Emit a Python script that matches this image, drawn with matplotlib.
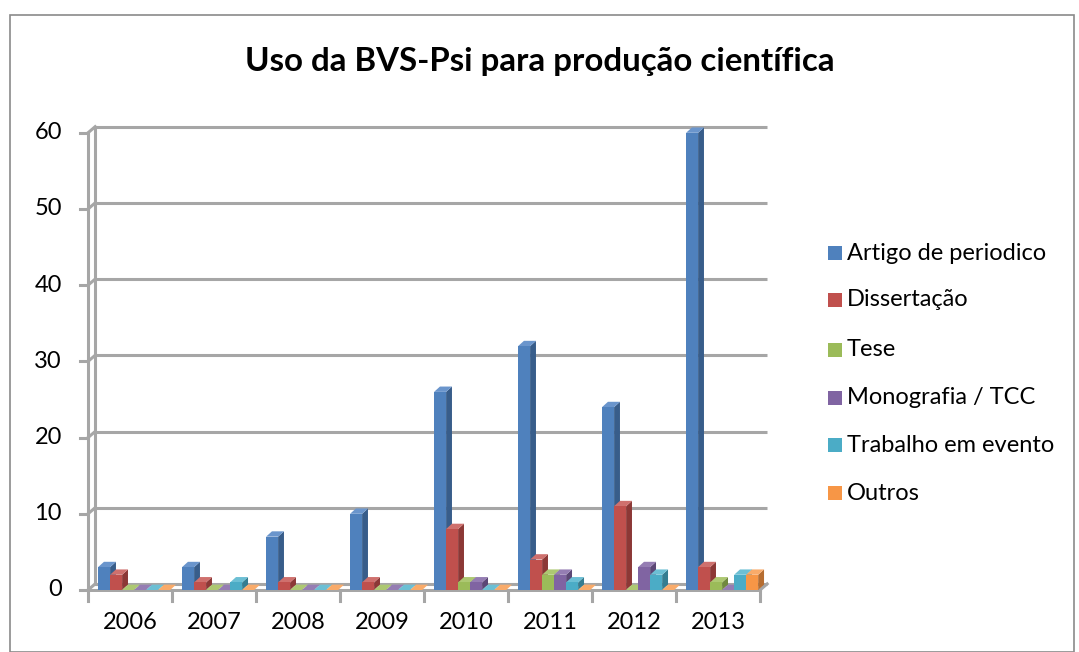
import numpy as np
import matplotlib.pyplot as plt
from matplotlib.patches import Polygon, Rectangle

# Dados do gráfico
anos = ["2006", "2007", "2008", "2009", "2010", "2011", "2012", "2013"]
series = ["Artigo de periodico", "Dissertação", "Tese", "Monografia / TCC",
          "Trabalho em evento", "Outros"]
artigo = [3, 3, 7, 10, 26, 32, 24, 60]
dissertacao = [2, 1, 1, 1, 8, 4, 11, 3]
tese = [0, 0, 0, 0, 1, 2, 0, 1]
monografia = [0, 0, 0, 0, 1, 2, 3, 0]
trabalho = [0, 1, 0, 0, 0, 1, 2, 2]
outros = [0, 0, 0, 0, 0, 0, 0, 2]
valores = [artigo, dissertacao, tese, monografia, trabalho, outros]

cores = ["#4F81BD", "#C0504D", "#9BBB59", "#8064A2", "#4BACC6", "#F79646"]
cores_lado = ["#385D8A", "#8C3836", "#71893F", "#5C4776", "#357D91", "#B66D31"]
cores_topo = ["#6A95CC", "#CF706D", "#ADC872", "#957DB3", "#6CBFD4", "#F9AB6A"]

W, H = 1079, 652
fig = plt.figure(figsize=(W / 100, H / 100), dpi=100)

# Moldura externa
fig.patches.append(Rectangle((10 / W, 0), 1064 / W, 1 - 15 / H, transform=fig.transFigure,
                             fill=False, edgecolor="#8a8a8a", linewidth=1.2))

# Eixos: 0 -> px 590, 7.62 px por unidade; categoria = 84 px, inicio em px 88
pyu = 7.62
pxu = 84.0
ylo, yhi = -0.3, 61.5
xlo, xhi = -0.1, 8.2
bottom = 590 + (0 - ylo) * pyu
top = 590 - yhi * pyu
left = 88 + xlo * pxu
right = 88 + xhi * pxu
ax = fig.add_axes([left / W, 1 - bottom / H, (right - left) / W, (bottom - top) / H])
ax.set_xlim(xlo, xhi)
ax.set_ylim(ylo, yhi)
ax.axis("off")

dx, dy = 0.085, 0.8
cinza = "#A6A6A6"
fonte = 17

# Parede do fundo e linhas de grade
for v in range(0, 61, 10):
    ax.plot([dx, 8 + dx], [v + dy, v + dy], color=cinza, lw=2.2, zorder=1,
            solid_capstyle="butt")
    ax.plot([0, dx], [v, v + dy], color=cinza, lw=2.2, zorder=1)
    ax.plot([-0.09, 0], [v, v], color=cinza, lw=2.2, zorder=1, clip_on=False)
    ax.text(-0.31, v, str(v), ha="right", va="center", fontsize=fonte,
            family="Lato", color="black", clip_on=False)
ax.plot([0, 0], [0, 60], color=cinza, lw=2.2, zorder=1)
ax.plot([dx, dx], [dy, 60 + dy], color=cinza, lw=2.2, zorder=1)

# Chão
ax.plot([0, 8], [0, 0], color=cinza, lw=2.2, zorder=1)
ax.plot([8, 8 + dx], [0, dy], color=cinza, lw=2.2, zorder=1)
for i in range(9):
    ax.plot([i, i], [0, -1.5], color=cinza, lw=2.2, zorder=1, clip_on=False)
for i, ano in enumerate(anos):
    ax.text(i + 0.5, -4.3, ano, ha="center", va="center", fontsize=fonte,
            family="Lato", color="black", clip_on=False)

# Barras com efeito 3D
largura = 0.143
inicio = 0.12
bdx, bdy = 0.07, 0.7
for i in range(len(anos)):
    for s in range(len(series)):
        v = valores[s][i]
        x0 = i + inicio + s * largura
        x1 = x0 + largura
        z = 3 + i * 10 + s
        # lado direito
        ax.add_patch(Polygon([(x1, 0), (x1 + bdx, bdy), (x1 + bdx, v + bdy), (x1, v)],
                             closed=True, facecolor=cores_lado[s], edgecolor="none", zorder=z))
        # topo
        ax.add_patch(Polygon([(x0, v), (x0 + bdx, v + bdy), (x1 + bdx, v + bdy), (x1, v)],
                             closed=True, facecolor=cores_topo[s], edgecolor="none", zorder=z))
        # frente
        if v > 0:
            ax.add_patch(Rectangle((x0, 0), largura, v, facecolor=cores[s],
                                   edgecolor="none", zorder=z + 0.5))

# Título
fig.text(540 / W, 1 - 62 / H, "Uso da BVS-Psi para produção científica",
         ha="center", va="center", fontsize=23.8, fontweight="bold", family="Lato")

# Legenda
ys = [253, 300, 350, 398, 445, 493]
for s, nome in enumerate(series):
    fig.patches.append(Rectangle((828 / W, 1 - (ys[s] + 7) / H), 14 / W, 14 / H,
                                 transform=fig.transFigure, facecolor=cores[s],
                                 edgecolor="none"))
    fig.text(847 / W, 1 - ys[s] / H, nome, ha="left", va="center", fontsize=fonte,
             family="Lato")

plt.savefig("out.png", dpi=100)
